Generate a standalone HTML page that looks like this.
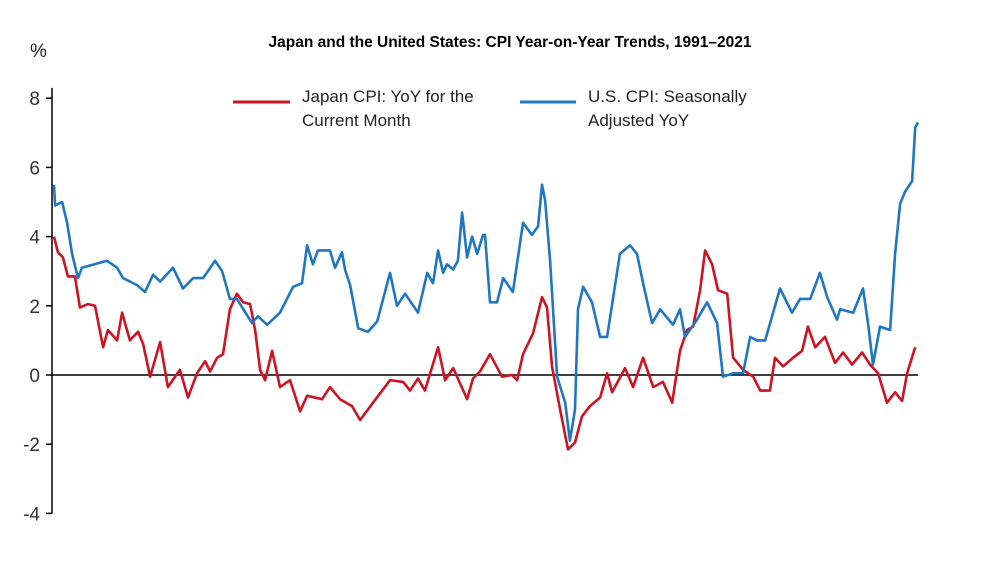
<!DOCTYPE html>
<html>
<head>
<meta charset="utf-8">
<style>
  html,body{margin:0;padding:0;background:#fff;}
  body{width:988px;height:556px;overflow:hidden;font-family:"Liberation Sans",sans-serif;}
  svg text{font-family:"Liberation Sans",sans-serif;}
</style>
</head>
<body>
<svg id="chart" width="988" height="556" viewBox="0 0 988 556" xmlns="http://www.w3.org/2000/svg">
  <text x="510" y="47" text-anchor="middle" font-size="15.5" font-weight="bold" fill="#000">Japan and the United States: CPI Year-on-Year Trends, 1991–2021</text>
  <text x="30" y="57" font-size="19" fill="#222">%</text>
  <g id="yaxis"></g>
  <g id="series"></g>
  <g>
    <line x1="233" y1="102" x2="290" y2="102" stroke="#cc1424" stroke-width="3"/>
    <text x="302" y="102" font-size="17" fill="#222">Japan CPI: YoY for the</text>
    <text x="302" y="126" font-size="17" fill="#222">Current Month</text>
    <line x1="520" y1="102" x2="576" y2="102" stroke="#1f77c0" stroke-width="3"/>
    <text x="588" y="102" font-size="17" fill="#222">U.S. CPI: Seasonally</text>
    <text x="588" y="126" font-size="17" fill="#222">Adjusted YoY</text>
  </g>
</svg>
<script>
const yTicks = [8, 6, 4, 2, 0, -2, -4];
const usYears = [1991.07,1991.11,1991.36,1991.54,1991.72,1991.93,1992.07,1992.97,1993.33,1993.54,1994.04,1994.33,1994.62,1994.87,1995.33,1995.69,1996.05,1996.41,1996.84,1997.09,1997.37,1997.62,1998.16,1998.37,1998.70,1999.16,1999.63,1999.95,2000.13,2000.34,2000.52,2000.95,2001.13,2001.38,2001.49,2001.67,2001.96,2002.31,2002.64,2003.10,2003.35,2003.64,2004.10,2004.43,2004.64,2004.82,2005.00,2005.14,2005.36,2005.53,2005.68,2005.86,2006.04,2006.22,2006.43,2006.50,2006.68,2006.93,2007.15,2007.50,2007.86,2008.18,2008.40,2008.54,2008.65,2008.83,2009.08,2009.37,2009.54,2009.72,2009.83,2010.01,2010.33,2010.62,2010.87,2011.33,2011.69,2011.94,2012.16,2012.48,2012.77,2013.23,2013.48,2013.66,2014.09,2014.45,2014.81,2015.02,2015.38,2015.74,2015.99,2016.24,2016.53,2017.06,2017.49,2017.78,2018.14,2018.49,2018.75,2019.10,2019.21,2019.68,2020.03,2020.21,2020.39,2020.64,2021.00,2021.18,2021.36,2021.54,2021.79,2021.90,2022.00];
const usValues = [5.5,4.9,5.0,4.4,3.5,2.8,3.1,3.3,3.1,2.8,2.6,2.4,2.9,2.7,3.1,2.5,2.8,2.8,3.3,3.0,2.2,2.2,1.5,1.7,1.45,1.8,2.55,2.65,3.75,3.2,3.6,3.6,3.1,3.55,3.05,2.6,1.35,1.25,1.55,2.95,2.0,2.35,1.8,2.95,2.65,3.6,2.95,3.2,3.05,3.3,4.7,3.4,4.0,3.5,4.05,4.05,2.1,2.1,2.8,2.4,4.4,4.05,4.3,5.5,5.05,3.3,-0.05,-0.8,-1.9,-1.0,1.9,2.55,2.1,1.1,1.1,3.5,3.75,3.5,2.65,1.5,1.9,1.45,1.9,1.1,1.6,2.1,1.5,-0.05,0.05,0.05,1.1,1.0,1.0,2.5,1.8,2.2,2.2,2.95,2.25,1.6,1.9,1.8,2.5,1.5,0.3,1.4,1.3,3.5,4.95,5.3,5.6,7.15,7.3];
const jpYears = [1991.07,1991.21,1991.39,1991.57,1991.82,1992.00,1992.29,1992.54,1992.83,1993.00,1993.33,1993.51,1993.79,1994.08,1994.26,1994.51,1994.87,1995.15,1995.58,1995.87,1996.19,1996.48,1996.66,1996.91,1997.12,1997.37,1997.62,1997.84,1998.09,1998.27,1998.45,1998.63,1998.88,1999.16,1999.52,1999.88,2000.13,2000.67,2000.95,2001.31,2001.74,2002.03,2002.49,2003.10,2003.57,2003.82,2004.10,2004.35,2004.82,2005.07,2005.36,2005.86,2006.07,2006.32,2006.68,2007.11,2007.47,2007.65,2007.86,2008.22,2008.54,2008.72,2008.90,2009.19,2009.47,2009.72,2009.97,2010.26,2010.62,2010.87,2011.05,2011.51,2011.80,2012.16,2012.52,2012.87,2013.20,2013.48,2013.73,2013.95,2014.20,2014.38,2014.63,2014.84,2015.17,2015.38,2015.74,2016.10,2016.35,2016.70,2016.88,2017.17,2017.53,2017.85,2018.06,2018.32,2018.67,2019.03,2019.32,2019.64,2020.00,2020.28,2020.57,2020.89,2021.18,2021.43,2021.61,2021.90];
const jpValues = [4.0,3.55,3.4,2.85,2.85,1.95,2.05,2.0,0.8,1.3,1.0,1.8,1.0,1.25,0.9,-0.05,0.95,-0.35,0.15,-0.65,0.05,0.4,0.1,0.5,0.6,1.9,2.35,2.1,2.05,1.3,0.15,-0.15,0.7,-0.35,-0.15,-1.05,-0.6,-0.7,-0.35,-0.7,-0.9,-1.3,-0.8,-0.15,-0.2,-0.45,-0.1,-0.45,0.8,-0.15,0.2,-0.7,-0.1,0.1,0.6,-0.05,0,-0.15,0.6,1.2,2.25,1.95,0.25,-1.0,-2.15,-1.95,-1.2,-0.9,-0.65,0.05,-0.5,0.2,-0.35,0.5,-0.35,-0.2,-0.8,0.7,1.3,1.4,2.45,3.6,3.2,2.45,2.35,0.5,0.15,-0.05,-0.45,-0.45,0.5,0.25,0.5,0.7,1.4,0.8,1.1,0.35,0.65,0.3,0.65,0.3,0.05,-0.8,-0.5,-0.75,0.05,0.8];

const NS = "http://www.w3.org/2000/svg";
const x0 = 52, x1 = 918, t0 = 1991, t1 = 2022;
const yZero = 375, pxPerUnit = 34.6;
function xScale(t){ return x0 + (t - t0) / (t1 - t0) * (x1 - x0); }
function yScale(v){ return yZero - v * pxPerUnit; }

const yaxis = document.getElementById('yaxis');
const axisLine = document.createElementNS(NS, 'line');


axisLine.setAttribute('x1', x0); axisLine.setAttribute('x2', x0);
axisLine.setAttribute('y1', yScale(8.3)); axisLine.setAttribute('y2', yScale(-4));
axisLine.setAttribute('stroke', '#000'); axisLine.setAttribute('stroke-width', '1.5');
yaxis.appendChild(axisLine);

yTicks.forEach(v => {
  const tk = document.createElementNS(NS, 'line');
  
  
  tk.setAttribute('x1', x0 - 6); tk.setAttribute('x2', x0);
  tk.setAttribute('y1', yScale(v)); tk.setAttribute('y2', yScale(v));
  tk.setAttribute('stroke', '#000'); tk.setAttribute('stroke-width', '1.5');
  yaxis.appendChild(tk);
  const lb = document.createElementNS(NS, 'text');
  
  
  lb.setAttribute('x', 40); lb.setAttribute('y', yScale(v) + 7);
  lb.setAttribute('text-anchor', 'end');
  lb.setAttribute('font-size', '19'); lb.setAttribute('fill', '#333');
  lb.textContent = v < 0 ? '-' + Math.abs(v) : String(v);
  yaxis.appendChild(lb);
});

const zero = document.createElementNS(NS, 'line');


zero.setAttribute('x1', x0); zero.setAttribute('x2', x1);
zero.setAttribute('y1', yScale(0)); zero.setAttribute('y2', yScale(0));
zero.setAttribute('stroke', '#000'); zero.setAttribute('stroke-width', '1.5');
yaxis.appendChild(zero);

const series = document.getElementById('series');
function drawLine(xs, vs, color){
  const pts = xs.map((t, i) => xScale(t).toFixed(1) + ',' + yScale(vs[i]).toFixed(1)).join(' ');
  const pl = document.createElementNS(NS, 'polyline');
  pl.setAttribute('points', pts);
  pl.setAttribute('fill', 'none');
  pl.setAttribute('stroke', color);
  pl.setAttribute('stroke-width', '2.6');
  pl.setAttribute('stroke-linejoin', 'round');
  series.appendChild(pl);
  return pl;
}
const jp = drawLine(jpYears, jpValues, '#cc1424');


const us = drawLine(usYears, usValues, '#1f77c0');


</script>
</body>
</html>
